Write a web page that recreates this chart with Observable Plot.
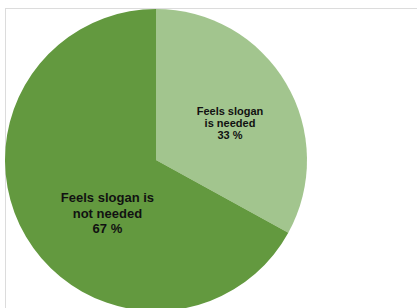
<!DOCTYPE html>
<html><head><meta charset="utf-8">
<script src="https://cdn.jsdelivr.net/npm/d3@7"></script>
<script src="https://cdn.jsdelivr.net/npm/@observablehq/plot@0.6"></script>
<style>
body{margin:0;background:#fff;overflow:hidden;}
#wrap{position:absolute;left:5px;top:8px;width:430px;height:320px;border-left:1px solid #dcdcdc;border-top:1px solid #dcdcdc;}
#chart{position:absolute;left:0;top:0;}
</style>
</head><body>
<div id="wrap"></div>
<div id="chart"></div>
<script>
const categories = ["Feels slogan is needed", "Feels slogan is not needed"];
const labels = ["Feels slogan\nis needed\n33 %", "Feels slogan is\nnot needed\n67 %"];
const values = [33, 67];
const colors = ["#a2c58e", "#63993f"];

const data = categories.map((c, i) => ({category: c, label: labels[i], value: values[i]}));
const arcs = d3.pie().sort(null).value(d => d.value)(data);
// label anchor: arc mid angle, fraction of radius
const mid = a => (a.startAngle + a.endAngle) / 2;
const lab = arcs.map((a, i) => ({
  ...a.data,
  px: Math.sin(mid(a)) * (i === 0 ? 0.55 : 0.47),
  py: Math.cos(mid(a)) * (i === 0 ? 0.55 : 0.47)
}));

const pieMark = (index, scales, vals, dims) => {
  const cx = scales.x(0), cy = scales.y(0), r = scales.x(1) - scales.x(0);
  const color = scales.color || d3.scaleOrdinal(categories, colors);
  const g = d3.create("svg:g").attr("transform", `translate(${cx},${cy})`);
  g.selectAll("path").data(arcs).join("path")
    .attr("d", d3.arc().innerRadius(0).outerRadius(r))
    .attr("fill", d => color(d.data.category));
  return g.node();
};

const chart = Plot.plot({
  width: 417, height: 308,
  margin: 0,
  x: {domain: [-1, 1], range: [5, 307], axis: null},
  y: {domain: [-1, 1], range: [311, 9], axis: null},
  color: {domain: categories, range: colors},
  style: {background: "transparent", overflow: "hidden"},
  marks: [
    Plot.dot(data, {x: () => 0, y: () => 0, r: 0, fill: "category"}),
    pieMark,
    Plot.text(lab.slice(0, 1), {x: "px", y: "py", text: "label", dx: 2, dy: 5,
      fontSize: 11, fontWeight: "bold", fill: "#111", lineHeight: 1.07,
      fontFamily: "Liberation Sans, Arial, sans-serif"}),
    Plot.text(lab.slice(1), {x: "px", y: "py", text: "label", dx: 12, dy: 16,
      fontSize: 13, fontWeight: "bold", fill: "#111", lineHeight: 1.19,
      fontFamily: "Liberation Sans, Arial, sans-serif"})
  ]
});
document.getElementById("chart").append(chart);
</script>
</body></html>
